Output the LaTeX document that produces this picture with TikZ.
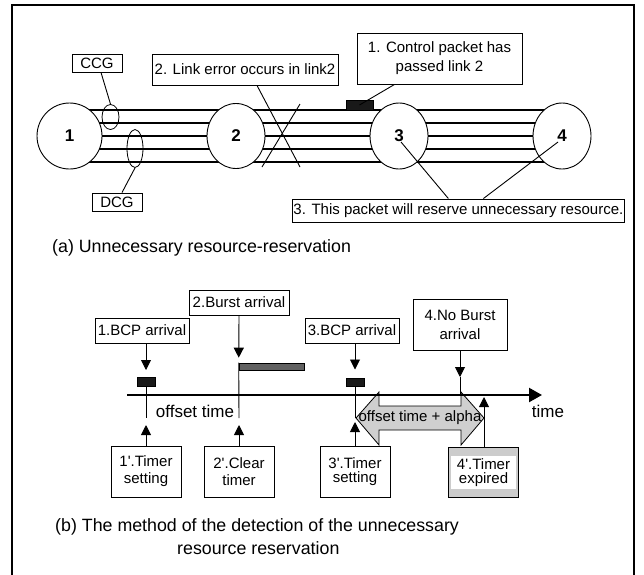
\documentclass[tikz,border=0pt]{standalone}
\usepackage{fontspec}
\setmainfont{Liberation Sans}
\usetikzlibrary{arrows.meta,shapes.geometric,backgrounds}
\newcommand\bxfont{\fontsize{15}{18}\selectfont}
\newcommand\capfont{\fontsize{17.8}{20}\selectfont}
\begin{document}
\begin{tikzpicture}[x=1pt,y=-1pt,
  frameline/.style={line width=1.1pt},
  bx/.style={draw, line width=0.9pt, fill=white, inner sep=0pt, align=center, font=\bxfont},
  nodecirc/.style={draw, ellipse, line width=0.9pt, fill=white, inner sep=0pt,
                   font=\bfseries\fontsize{17}{17}\selectfont},
  grp/.style={draw, ellipse, line width=0.8pt, inner sep=0pt},
  link/.style={line width=2.2pt},
  lead/.style={line width=0.9pt},
  arr/.style={line width=0.9pt, -{Triangle[length=10pt,width=10pt]}},
  pkt/.style={fill=black!90, draw=black, line width=0.5pt, inner sep=0pt},
]
\useasboundingbox (0,0) rectangle (644,574);

% outer frame (open at the bottom)
\draw[frameline] (12,580) -- (12,5) -- (634,5) -- (634,580);

% ---------- (a) network ----------
\node[nodecirc, minimum width=65pt, minimum height=66pt] (n1) at (69.5,136) {1};
\node[nodecirc, minimum width=58pt, minimum height=65pt] (n2) at (236,136) {2};
\node[nodecirc, minimum width=58pt, minimum height=66pt] (n3) at (399,136) {3};
\node[nodecirc, minimum width=58pt, minimum height=66pt] (n4) at (562,136) {4};

\begin{scope}[on background layer]
  \foreach \d in {-26pt,-13pt,0pt,13pt,26pt} {
    \draw[link] ([yshift=\d]n1.center) -- ([yshift=\d]n2.center);
    \draw[link] ([yshift=\d]n2.center) -- ([yshift=\d]n3.center);
    \draw[link] ([yshift=\d]n3.center) -- ([yshift=\d]n4.center);
  }
\end{scope}

% channel groups
\node[grp, minimum width=17pt, minimum height=25pt] (ccgel) at (110.5,117) {};
\node[grp, minimum width=16pt, minimum height=38pt] (dcgel) at (135,148.5) {};
\node[bx, minimum width=50pt, minimum height=18pt] (ccg) at (97,63) {CCG};
\node[bx, minimum width=50pt, minimum height=18pt] (dcg) at (117,202) {DCG};
\draw[lead] ([xshift=4pt]ccg.south) -- (ccgel.north);
\draw[lead] (dcgel.south) -- ([xshift=5pt]dcg.north);

% link error
\node[bx, minimum width=186pt, minimum height=31pt] (err) at (245,69.5) {2. Link error occurs in link2};
\coordinate (xa) at (300,167);
\coordinate (xb) at (300,104);
\coordinate (xc) at (262,167);
\draw[lead] ([xshift=12pt]err.south) -- (xa);
\draw[lead] (xb) -- (xc);

% control packet
\node[pkt, minimum width=27pt, minimum height=10pt] (pa) at (359.5,105) {};
\node[bx, minimum width=165pt, minimum height=51pt, font=\fontsize{15}{19}\selectfont] (ctl) at (439.5,58.5)
  {1. Control packet has\\passed link 2};
\draw[lead] (pa.center) -- ([xshift=-45pt]ctl.south);

% unnecessary reservation
\node[bx, inner xsep=1pt, minimum height=23pt, anchor=west] (res) at (292,210.5)
  {3. This packet will reserve unnecessary resource.};
\draw[lead] ([xshift=-10pt]res.north) -- ([shift={(2,6)}]n3.center);
\draw[lead] ([xshift=25pt]res.north) -- ([shift={(-4,6)}]n4.center);

\node[anchor=west, inner sep=0pt, font=\capfont] (capa) at (52,248) {(a) Unnecessary resource-reservation};

% ---------- (b) timing ----------
\node[bx, minimum width=94pt, minimum height=25pt] (bcp1) at (142,330.5) {1.BCP arrival};
\node[bx, minimum width=100pt, minimum height=25pt] (burst) at (239,302.5) {2.Burst arrival};
\node[bx, minimum width=94pt, minimum height=25pt] (bcp3) at (352,330.5) {3.BCP arrival};
\node[bx, minimum width=94pt, minimum height=51pt, font=\fontsize{15}{19}\selectfont] (nob) at (460,324.5)
  {4.No Burst\\arrival};

\node[pkt, minimum width=18pt, minimum height=8.5pt] (pk1) at (146,381.5) {};
\node[pkt, minimum width=18pt, minimum height=8.5pt] (pk3) at (355,382) {};
\node[draw, fill=black!62, line width=0.6pt, minimum width=65pt, minimum height=7pt, inner sep=0pt] (bar) at (271.5,366.5) {};

% offset time + alpha
\draw[line width=0.8pt, fill=gray!38] (356,418) -- (379,392) -- (379,406) -- (461,406) -- (461,392)
  -- (484,418) -- (461,445) -- (461,430) -- (379,430) -- (379,445) -- cycle;
\node[font=\fontsize{15}{15}\selectfont, inner sep=0pt] (ota) at (420,418) {offset time + alpha};

% time axis
\coordinate (t0) at (127,395);
\coordinate (t1) at (542,395);
\draw[line width=2.3pt, -{Triangle[length=13pt,width=14pt]}] (t0) -- (t1);
\node[font=\fontsize{17}{17}\selectfont] (tlab) at (548,411) {time};
\node[font=\fontsize{17}{17}\selectfont] (offs) at (195,411) {offset time};

% timer boxes
\node[bx, minimum width=70pt, minimum height=51pt, font=\fontsize{15}{17}\selectfont] (tm1) at (146,471.5)
  {1\textquotesingle.Timer\\setting};
\node[bx, minimum width=70pt, minimum height=51pt, font=\fontsize{15}{17}\selectfont] (tm2) at (239,471.5)
  {2\textquotesingle.Clear\\timer};
\node[bx, minimum width=70pt, minimum height=51pt, font=\fontsize{15}{14.5}\selectfont] (tm3) at (355,471.5)
  {3\textquotesingle.Timer\\setting};
\node[bx, fill=gray!40, minimum width=70pt, minimum height=50pt] (tm4) at (483,472) {};
\node[fill=white, inner sep=0pt, minimum width=65pt, minimum height=33pt, align=center,
      font=\fontsize{15}{14.5}\selectfont] (tm4t) at (483.5,472.5) {4\textquotesingle.Timer\\expired};

% arrows onto the axis
\draw[arr, shorten >=7pt] ([xshift=4pt]bcp1.south) -- (pk1.north);
\draw[arr, shorten >=5pt] (burst.south) -- (bar.north west);
\draw[arr, shorten >=8pt] ([xshift=3pt]bcp3.south) -- (pk3.north);
\coordinate (nbt) at (460,377);
\coordinate (nbb) at (460,395);
\draw[arr] (nob.south) -- (nbt);
\draw[lead] (nbt) -- (nbb);

\coordinate (k1) at (146,418);
\coordinate (k2) at (239,418);
\coordinate (k3) at (355,418);
\draw[lead] (pk1.south) -- (k1);
\draw[lead] (bar.north west) -- (k2);
\draw[lead] (pk3.south) -- (k3);

\coordinate (u1) at (146,425);
\coordinate (u2) at (239,425);
\coordinate (u3) at (355,422);
\coordinate (u4) at (484,397);
\draw[arr] (tm1.north) -- (u1);
\draw[arr] (tm2.north) -- (u2);
\draw[arr] (tm3.north) -- (u3);
\draw[arr] ([xshift=1pt]tm4.north) -- (u4);

\node[anchor=west, inner sep=0pt, font=\capfont] (capb1) at (55,527)
  {(b) The method of the detection of the unnecessary};
\node[anchor=west, inner sep=0pt, font=\capfont] (capb2) at (177,548) {resource reservation};
\end{tikzpicture}
\end{document}
